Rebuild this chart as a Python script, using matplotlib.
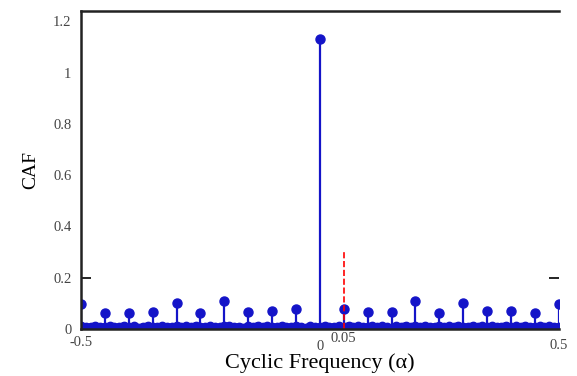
import numpy as np
import matplotlib
matplotlib.use("Agg")
import matplotlib.pyplot as plt

# ---- data ----
peak_freqs = [-0.50, -0.45, -0.40, -0.35, -0.30, -0.25, -0.20, -0.15, -0.10, -0.05,
              0.00, 0.05, 0.10, 0.15, 0.20, 0.25, 0.30, 0.35, 0.40, 0.45, 0.50]
peak_caf = [0.098, 0.062, 0.062, 0.066, 0.100, 0.062, 0.110, 0.066, 0.070, 0.078,
            1.130, 0.078, 0.066, 0.066, 0.110, 0.062, 0.100, 0.070, 0.070, 0.062, 0.098]

noise_freqs = list(np.round(np.linspace(-0.5, 0.5, 101), 3))
noise_caf = [0.010, 0.006, 0.008, 0.012, 0.007, 0.009, 0.011, 0.006, 0.008, 0.013,
             0.007, 0.010, 0.005, 0.009, 0.012, 0.008, 0.006, 0.011, 0.009, 0.007,
             0.012, 0.008, 0.010, 0.006, 0.013, 0.009, 0.007, 0.011, 0.008, 0.006,
             0.010, 0.012, 0.007, 0.009, 0.005, 0.011, 0.008, 0.013, 0.006, 0.010,
             0.009, 0.007, 0.012, 0.008, 0.006, 0.011, 0.009, 0.005, 0.010, 0.007,
             0.008, 0.012, 0.006, 0.009, 0.011, 0.007, 0.013, 0.008, 0.010, 0.006,
             0.009, 0.012, 0.007, 0.010, 0.008, 0.005, 0.011, 0.009, 0.013, 0.006,
             0.010, 0.008, 0.012, 0.007, 0.009, 0.011, 0.006, 0.010, 0.008, 0.013,
             0.007, 0.009, 0.012, 0.006, 0.010, 0.008, 0.011, 0.007, 0.009, 0.013,
             0.006, 0.010, 0.008, 0.012, 0.007, 0.009, 0.011, 0.006, 0.010, 0.008,
             0.009]

cycle_freq = 0.05
cycle_level = 0.31

xticks = [-0.5, 0.0, 0.05, 0.5]
xtick_labels = ["-0.5", "0", "0.05", "0.5"]
yticks = [0, 0.2, 0.4, 0.6, 0.8, 1.0, 1.2]
ytick_labels = ["0", "0.2", "0.4", "0.6", "0.8", "1", "1.2"]

# ---- plot ----
plt.rcParams['font.family'] = ['Liberation Serif', 'DejaVu Serif']
fig = plt.figure(figsize=(5.77, 3.76), dpi=100)
ax = fig.add_axes([0.1404, 0.125, 0.828, 0.8457])

blue = '#1414c8'
# noise band
ml, sl, bl = ax.stem(noise_freqs, noise_caf, basefmt=' ')
plt.setp(ml, color=blue, markersize=6)
plt.setp(sl, color=blue, linewidth=1.5)
ax.plot(noise_freqs, noise_caf, color=blue, linewidth=5)

# peaks
ml2, sl2, bl2 = ax.stem(peak_freqs, peak_caf, basefmt=' ')
plt.setp(ml2, color=blue, markersize=6.5)
plt.setp(sl2, color=blue, linewidth=1.6)

# cyclic-frequency marker
ax.plot([cycle_freq, cycle_freq], [0, cycle_level], color='red', linestyle='--', linewidth=1.2)

ax.set_xlim(-0.5, 0.5)
ax.set_ylim(0, 1.24)
ax.set_xticks(xticks)
ax.set_xticklabels(xtick_labels, fontsize=10.5, color='#444444')
ax.set_yticks(yticks)
ax.set_yticklabels(ytick_labels, fontsize=10.5, color='#444444')
ax.tick_params(direction='in', length=7, width=1.2, top=False, right=True, pad=7)
for t, v in zip(ax.yaxis.get_major_ticks(), yticks):
    if abs(v - 0.2) > 1e-6:
        t.tick1line.set_visible(False)
        t.tick2line.set_visible(False)
for t in ax.xaxis.get_major_ticks():
    t.tick1line.set_visible(False)
xt = ax.xaxis.get_major_ticks()
xt[0].set_pad(5)
xt[1].set_pad(8)
xt[2].set_pad(2)
xt[3].set_pad(7)

for s in ['left', 'top', 'bottom']:
    ax.spines[s].set_linewidth(1.8)
    ax.spines[s].set_color('#222222')
ax.spines['right'].set_visible(False)

ax.set_xlabel('Cyclic Frequency (α)', fontsize=16, labelpad=0)
ax.set_ylabel('CAF', fontsize=14, labelpad=10)

fig.savefig('out.png', dpi=100)
